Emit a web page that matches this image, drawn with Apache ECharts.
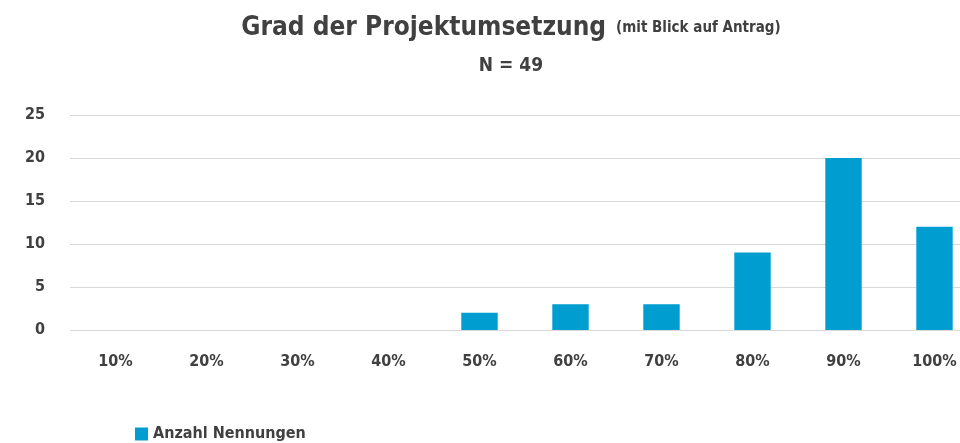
<!DOCTYPE html>
<html>
<head>
<meta charset="utf-8">
<title>Grad der Projektumsetzung</title>
<script src="https://cdn.jsdelivr.net/npm/echarts@6/dist/echarts.min.js"></script>
<style>
  body, html {margin:0;padding:0;width:960px;height:443px;overflow:hidden;background:#fff;}
  #main {width:980px;height:443px;}
</style>
</head>
<body>
<div id="main"></div>
<script>
// Daten
var kategorien = ['10%', '20%', '30%', '40%', '50%', '60%', '70%', '80%', '90%', '100%'];
var nennungen = [0, 0, 0, 0, 2, 3, 3, 9, 20, 12];
var serienName = 'Anzahl Nennungen';

var schrift = '"Liberation Sans Narrow", "DejaVu Sans Condensed", "Liberation Sans", sans-serif';
var textFarbe = '#404040';

var chart = echarts.init(document.getElementById('main'));
chart.setOption({
    animation: false,
    title: {
        text: '{a|Grad der Projektumsetzung}  {b|(mit Blick auf Antrag)}\n{c|N = 49}',
        left: 506,
        top: 4,
        textAlign: 'center',
        textStyle: {
            rich: {
                a: {fontSize: 26, fontWeight: 'bold', color: textFarbe, fontFamily: schrift, lineHeight: 38},
                b: {fontSize: 15, fontWeight: 'bold', color: textFarbe, fontFamily: schrift, lineHeight: 38},
                c: {fontSize: 19, fontWeight: 'bold', color: textFarbe, fontFamily: schrift, lineHeight: 38}
            }
        }
    },
    legend: {
        left: 130,
        top: 421,
        itemWidth: 13,
        itemHeight: 13,
        itemGap: 6,
        icon: 'rect',
        itemStyle: {borderWidth: 0},
        textStyle: {fontSize: 16, fontWeight: 'bold', color: textFarbe, fontFamily: schrift},
        data: [serienName]
    },
    grid: {left: 70, right: 0, top: 115, bottom: 113},
    xAxis: {
        type: 'category',
        data: kategorien,
        axisLine: {show: false},
        axisTick: {show: false},
        axisLabel: {margin: 24, fontSize: 16, fontWeight: 'bold', color: textFarbe, fontFamily: schrift}
    },
    yAxis: {
        type: 'value',
        min: 0,
        max: 25,
        interval: 5,
        axisLine: {show: false},
        axisTick: {show: false},
        axisLabel: {margin: 25, fontSize: 16, fontWeight: 'bold', color: textFarbe, fontFamily: schrift},
        splitLine: {lineStyle: {color: '#d9d9d9', width: 1}}
    },
    series: [{
        name: serienName,
        type: 'bar',
        data: nennungen,
        barWidth: '40%',
        itemStyle: {color: '#009dd1'}
    }]
});
</script>
</body>
</html>
